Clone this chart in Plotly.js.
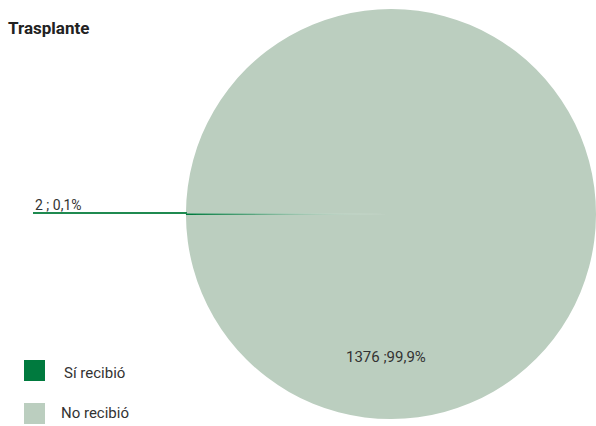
<!DOCTYPE html>
<html>
<head>
<meta charset="utf-8">
<script src="https://cdn.plot.ly/plotly-3.0.1.min.js"></script>
<style>html,body{margin:0;padding:0;background:#fff;}#chart{width:596px;height:426px;}</style>
</head>
<body>
<div id="chart"></div>
<script>
const chartTitle = "Trasplante";
const categories = ["Sí recibió", "No recibió"];
const values = [2, 1376];
const colors = ["#007A3E", "#BBCEBF"];

const FONT = "'Roboto', 'DejaVu Sans', sans-serif";
const total = values.reduce((a, b) => a + b, 0);
const pct = v => (v / total * 100).toFixed(1).replace('.', ',') + '%';
const firstSliceDeg = values[0] / total * 360;

const trace = {
  type: 'pie',
  labels: categories,
  values: values,
  sort: false,
  direction: 'clockwise',
  rotation: 270 - firstSliceDeg / 2,
  marker: {colors: colors, line: {width: 0}},
  textinfo: 'none',
  hoverinfo: 'label+value+percent',
  showlegend: false,
  domain: {x: [0.312, 1], y: [0.014, 0.981]}
};

const annotations = [
  {xref: 'paper', yref: 'paper', x: 33 / 596, y: 1 - 205 / 426, xanchor: 'left', yanchor: 'middle',
   text: values[0] + ' ; ' + pct(values[0]), showarrow: false, font: {family: FONT, size: 14, color: '#333'}},
  {xref: 'paper', yref: 'paper', x: 386 / 596, y: 1 - 357 / 426, xanchor: 'center', yanchor: 'middle',
   text: values[1] + ' ;' + pct(values[1]), showarrow: false, font: {family: FONT, size: 15, color: '#333'}},
  {xref: 'paper', yref: 'paper', x: 62 / 596, y: 1 - 373 / 426, xanchor: 'left', yanchor: 'middle',
   text: categories[0], showarrow: false, font: {family: FONT, size: 15, color: '#333'}},
  {xref: 'paper', yref: 'paper', x: 59 / 596, y: 1 - 413 / 426, xanchor: 'left', yanchor: 'middle',
   text: categories[1], showarrow: false, font: {family: FONT, size: 15, color: '#333'}}
];

const shapes = [
  {type: 'line', xref: 'paper', yref: 'paper', x0: 33 / 596, x1: 187 / 596, y0: 1 - 213 / 426, y1: 1 - 213 / 426,
   line: {color: '#1F8A50', width: 2}},
  {type: 'rect', xref: 'paper', yref: 'paper', x0: 24 / 596, x1: 45 / 596, y0: 1 - 381 / 426, y1: 1 - 360 / 426,
   fillcolor: colors[0], line: {width: 0}},
  {type: 'rect', xref: 'paper', yref: 'paper', x0: 24 / 596, x1: 45 / 596, y0: 1 - 424 / 426, y1: 1 - 403 / 426,
   fillcolor: colors[1], line: {width: 0}}
];

const layout = {
  width: 596, height: 426,
  margin: {l: 0, r: 0, t: 0, b: 0},
  paper_bgcolor: '#fff',
  title: {text: '<b>' + chartTitle + '</b>', x: 8 / 596, xanchor: 'left', xref: 'paper',
          y: 1 - 28 / 426, yanchor: 'middle', yref: 'paper',
          font: {family: FONT, size: 17, color: '#222'}},
  annotations: annotations,
  shapes: shapes,
  showlegend: false
};

Plotly.newPlot('chart', [trace], layout, {displayModeBar: false, staticPlot: true});
</script>
</body>
</html>
